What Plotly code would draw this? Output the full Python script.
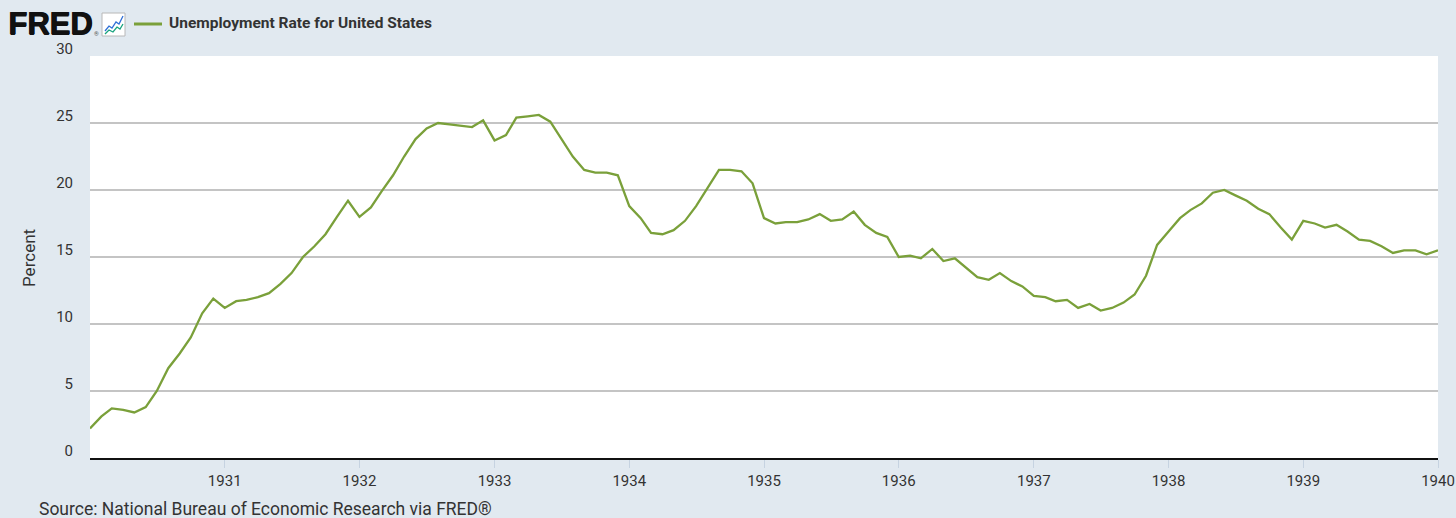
import plotly.graph_objects as go
import pandas as pd

# monthly unemployment rate, Jan 1930 - Jan 1940
dates = pd.date_range("1930-01-01", "1940-01-01", freq="MS")
rate = [
    2.2, 3.1, 3.7, 3.6, 3.4, 3.8, 5.0, 6.7, 7.8, 9.0, 10.8, 11.9,       # 1930
    11.2, 11.7, 11.8, 12.0, 12.3, 13.0, 13.8, 15.0, 15.8, 16.7, 18.0, 19.2,  # 1931
    18.0, 18.7, 19.9, 21.1, 22.5, 23.8, 24.6, 25.0, 24.9, 24.8, 24.7, 25.2,  # 1932
    23.7, 24.1, 25.4, 25.5, 25.6, 25.1, 23.8, 22.5, 21.5, 21.3, 21.3, 21.1,  # 1933
    18.8, 17.9, 16.8, 16.7, 17.0, 17.7, 18.8, 20.2, 21.5, 21.5, 21.4, 20.5,  # 1934
    17.9, 17.5, 17.6, 17.6, 17.8, 18.2, 17.7, 17.8, 18.4, 17.4, 16.8, 16.5,  # 1935
    15.0, 15.1, 14.9, 15.6, 14.7, 14.9, 14.2, 13.5, 13.3, 13.8, 13.2, 12.8,  # 1936
    12.1, 12.0, 11.7, 11.8, 11.2, 11.5, 11.0, 11.2, 11.6, 12.2, 13.6, 15.9,  # 1937
    16.9, 17.9, 18.5, 19.0, 19.8, 20.0, 19.6, 19.2, 18.6, 18.2, 17.2, 16.3,  # 1938
    17.7, 17.5, 17.2, 17.4, 16.9, 16.3, 16.2, 15.8, 15.3, 15.5, 15.5, 15.2,  # 1939
    15.5,                                                                # 1940
]
year_ticks = ["1931", "1932", "1933", "1934", "1935", "1936", "1937", "1938", "1939", "1940"]
y_ticks = [0, 5, 10, 15, 20, 25, 30]

series_name = "Unemployment Rate for United States"
source = "Source: National Bureau of Economic Research via FRED®"

W, H = 1456, 518
L, R, T, B = 90, 18, 56, 60
green = "#7aa03a"
bg = "#e1e9f0"
txt = "#333333"


def px(x):
    return (x - L) / (W - L - R)


def py(y):
    return (H - B - y) / (H - T - B)


fig = go.Figure()
fig.add_trace(go.Scatter(x=dates, y=rate, mode="lines", name=series_name,
                         line=dict(color=green, width=2.3), showlegend=False))

shapes = []
annotations = []

# FRED logo + small chart icon
annotations.append(dict(xref="paper", yref="paper", x=px(6), y=py(24), xanchor="left", yanchor="middle",
                        text="<b>FRED</b>", showarrow=False,
                        font=dict(family="Liberation Sans", size=31, color="#111111",
                                  shadow="1px 0 0 #111111, 0.5px 0.5px 0 #111111")))
annotations.append(dict(xref="paper", yref="paper", x=px(92), y=py(33), xanchor="left", yanchor="middle",
                        text="®", showarrow=False, font=dict(family="Roboto", size=6, color="#555555")))
shapes.append(dict(type="rect", xref="paper", yref="paper", x0=px(102), x1=px(125), y0=py(36), y1=py(13),
                   fillcolor="white", line=dict(color="#b8b8b8", width=1)))


def poly(pts):
    return "M " + " L ".join("%f,%f" % (px(a), py(b)) for a, b in pts)


shapes.append(dict(type="path", xref="paper", yref="paper",
                   path=poly([(105, 31), (109, 26), (112, 28), (116, 22), (119, 24), (123, 16)]),
                   line=dict(color="#2f6fd6", width=1.3)))
shapes.append(dict(type="path", xref="paper", yref="paper",
                   path=poly([(105, 34), (109, 30), (113, 32), (117, 27), (120, 29), (123, 24)]),
                   line=dict(color="#18a37e", width=1.3)))

# legend swatch + label
shapes.append(dict(type="line", xref="paper", yref="paper", x0=px(134), x1=px(162), y0=py(24), y1=py(24),
                   line=dict(color=green, width=3)))
annotations.append(dict(xref="paper", yref="paper", x=px(167), y=py(23), xanchor="left", yanchor="middle",
                        text="<b>" + series_name + "</b>", showarrow=False,
                        font=dict(family="Roboto", size=15.5, color=txt)))

# y axis title
annotations.append(dict(xref="paper", yref="paper", x=px(29), y=py(258), xanchor="center", yanchor="middle",
                        text="Percent", textangle=-90, showarrow=False,
                        font=dict(family="Roboto", size=17, color=txt)))
# source line
annotations.append(dict(xref="paper", yref="paper", x=px(37), y=py(509), xanchor="left", yanchor="middle",
                        text=source, showarrow=False, font=dict(family="Roboto", size=17.5, color=txt)))

fig.update_layout(
    width=W, height=H,
    margin=dict(l=L, r=R, t=T, b=B, autoexpand=False),
    paper_bgcolor=bg, plot_bgcolor="white",
    font=dict(family="Roboto", size=15, color=txt),
    shapes=shapes, annotations=annotations,
)
fig.update_xaxes(
    range=[dates[0], dates[-1]], automargin=False,
    tickvals=[pd.Timestamp(y + "-01-01") for y in year_ticks], ticktext=year_ticks,
    ticks="outside", ticklen=8, tickcolor="#c6d3e1", tickwidth=1,
    showgrid=False, showline=True, linecolor="#111111", linewidth=2, zeroline=False,
    tickfont=dict(family="Roboto", size=15, color=txt),
)
fig.update_yaxes(
    range=[0, 30], tickvals=y_ticks, automargin=False,
    showgrid=True, gridcolor="#c4c4c4", gridwidth=1.6, zeroline=False,
    ticklabelshift=-7, ticklabelstandoff=16,
    tickfont=dict(family="Roboto", size=15, color=txt),
)

fig.write_html("out.html", config={"displayModeBar": False},
               post_script="document.body.style.margin='0';document.body.style.background='%s';" % bg)
